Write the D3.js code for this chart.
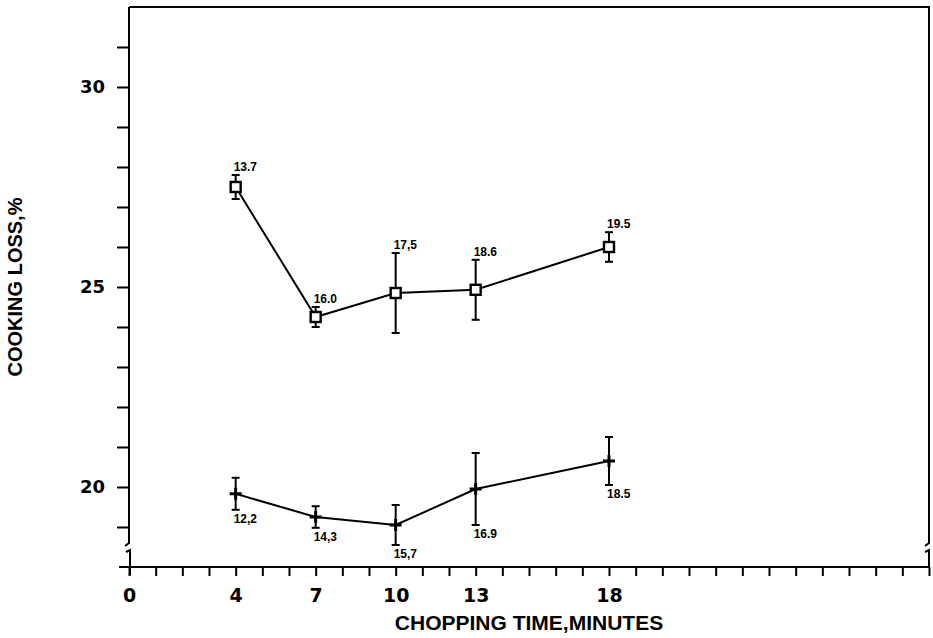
<!DOCTYPE html>
<html>
<head>
<meta charset="utf-8">
<script src="https://cdn.jsdelivr.net/npm/d3@7"></script>
<style>
  body { margin: 0; background: #fff; }
  svg text { font-family: "Liberation Sans", Arial, sans-serif; font-weight: bold; fill: #000; }
  .tick text { font-family: "DejaVu Sans", sans-serif; }
</style>
</head>
<body>
<svg id="chart" width="933" height="638"></svg>
<script>
// chopping time, minutes
var minutes = [4, 7, 10, 13, 18];

// upper series (squares)
var lossSquare = [27.5, 24.25, 24.85, 24.93, 26.0];
var errSquare = [0.3, 0.25, 1.0, 0.75, 0.37];
var labelSquare = ["13.7", "16.0", "17,5", "18.6", "19.5"];

// lower series (plus)
var lossPlus = [19.83, 19.25, 19.05, 19.95, 20.65];
var errPlus = [0.4, 0.27, 0.5, 0.9, 0.6];
var labelPlus = ["12,2", "14,3", "15,7", "16.9", "18.5"];

var xTickLabels = [0, 4, 7, 10, 13, 18];
var yTickLabels = [20, 25, 30];

var svg = d3.select("#chart");

var x = d3.scaleLinear().domain([0, 30]).range([129, 929]);
var y = d3.scaleLinear().domain([18, 32]).range([567, 7]);

var frame = svg.append("g").attr("stroke", "#000").attr("fill", "none").attr("stroke-width", 2);

// top + right border, right border has a break near the bottom
frame.append("path").attr("d",
    "M" + x(0) + "," + y(32) + "H" + x(30) + "V" + 543 + "l-4,3");
frame.append("path").attr("d",
    "M" + (x(30) - 4) + ",552 l4,-2 V" + y(18));
// left axis with break
frame.append("path").attr("d",
    "M" + x(0) + "," + y(32) + "V" + 543 + "l-4,3");
frame.append("path").attr("d",
    "M" + (x(0) - 3) + ",552 l4,-2 V" + (y(18) + 8));
// bottom axis
frame.append("path").attr("d", "M" + (x(0) - 10) + "," + y(18) + "H" + x(30));

// x axis ticks
var xAxis = d3.axisBottom(x)
    .tickValues(d3.range(0, 31))
    .tickSize(9)
    .tickFormat(function (d) { return xTickLabels.indexOf(d) !== -1 ? d : ""; });
var gx = svg.append("g").attr("transform", "translate(0," + y(18) + ")").call(xAxis);
gx.select(".domain").remove();
gx.selectAll(".tick line").attr("stroke", "#000").attr("stroke-width", 2);
gx.selectAll(".tick text").attr("font-size", 19).attr("dy", "1.2em").attr("fill", "#000");

// y axis ticks
var yAxis = d3.axisLeft(y)
    .tickValues(d3.range(19, 32))
    .tickSize(12)
    .tickPadding(12)
    .tickFormat(function (d) { return yTickLabels.indexOf(d) !== -1 ? d : ""; });
var gy = svg.append("g").attr("transform", "translate(" + x(0) + ",0)").call(yAxis);
gy.select(".domain").remove();
gy.selectAll(".tick line").attr("stroke", "#000").attr("stroke-width", 2);
gy.selectAll(".tick text").attr("font-size", 18).attr("fill", "#000");

// axis titles
svg.append("text")
    .attr("x", (x(0) + x(30)) / 2)
    .attr("y", 630)
    .attr("text-anchor", "middle")
    .attr("font-size", 21)
    .text("CHOPPING TIME,MINUTES");

svg.append("text")
    .attr("transform", "translate(22," + (y(18) + y(32)) / 2 + ") rotate(-90)")
    .attr("text-anchor", "middle")
    .attr("font-size", 20)
    .text("COOKING LOSS,%");

function drawSeries(vals, errs, labels, marker, labelAbove) {
    var pts = minutes.map(function (m, i) {
        return { m: m, v: vals[i], e: errs[i], label: labels[i] };
    });
    var g = svg.append("g");

    g.append("path")
        .datum(pts)
        .attr("fill", "none")
        .attr("stroke", "#000")
        .attr("stroke-width", 2)
        .attr("d", d3.line().x(function (d) { return x(d.m); }).y(function (d) { return y(d.v); }));

    var bars = g.selectAll(".err").data(pts).enter().append("g").attr("class", "err")
        .attr("stroke", "#000").attr("stroke-width", 2);
    bars.append("line")
        .attr("x1", function (d) { return x(d.m); })
        .attr("x2", function (d) { return x(d.m); })
        .attr("y1", function (d) { return y(d.v + d.e); })
        .attr("y2", function (d) { return y(d.v - d.e); });
    bars.append("line")
        .attr("x1", function (d) { return x(d.m) - 4; })
        .attr("x2", function (d) { return x(d.m) + 4; })
        .attr("y1", function (d) { return y(d.v + d.e); })
        .attr("y2", function (d) { return y(d.v + d.e); });
    bars.append("line")
        .attr("x1", function (d) { return x(d.m) - 4; })
        .attr("x2", function (d) { return x(d.m) + 4; })
        .attr("y1", function (d) { return y(d.v - d.e); })
        .attr("y2", function (d) { return y(d.v - d.e); });

    if (marker === "square") {
        g.selectAll(".mk").data(pts).enter().append("rect")
            .attr("x", function (d) { return x(d.m) - 5; })
            .attr("y", function (d) { return y(d.v) - 5; })
            .attr("width", 10).attr("height", 10)
            .attr("fill", "#fff").attr("stroke", "#000").attr("stroke-width", 2.4);
    } else {
        g.selectAll(".mk").data(pts).enter().append("path")
            .attr("d", function (d) {
                var cx = x(d.m), cy = y(d.v);
                return "M" + (cx - 6) + "," + cy + "H" + (cx + 6) + "M" + cx + "," + (cy - 6) + "V" + (cy + 6);
            })
            .attr("stroke", "#000").attr("stroke-width", 3);
    }

    g.selectAll(".lbl").data(pts).enter().append("text")
        .attr("x", function (d) { return x(d.m) - 2; })
        .attr("y", function (d) { return labelAbove ? y(d.v + d.e) - 4 : y(d.v - d.e) + 13; })
        .attr("font-size", 12)
        .text(function (d) { return d.label; });
}

drawSeries(lossSquare, errSquare, labelSquare, "square", true);
drawSeries(lossPlus, errPlus, labelPlus, "plus", false);
</script>
</body>
</html>
